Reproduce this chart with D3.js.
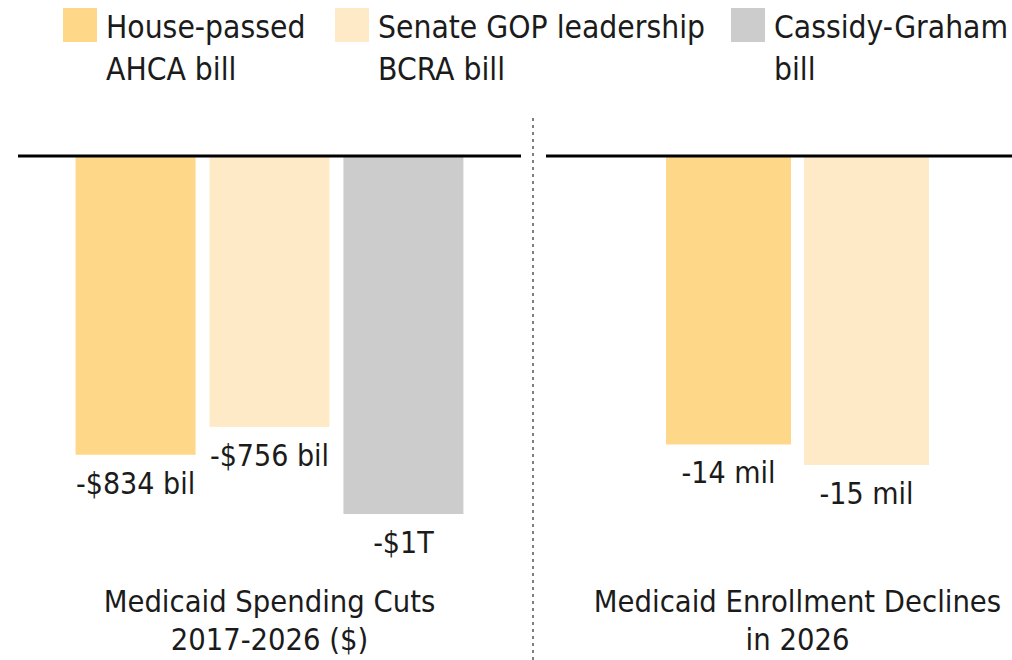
<!DOCTYPE html>
<html>
<head>
<meta charset="utf-8">
<script src="https://cdn.jsdelivr.net/npm/d3@7"></script>
<style>
  body { margin: 0; background: #fff; }
  svg text { font-family: "DejaVu Sans Condensed", "Liberation Sans Narrow", sans-serif; fill: #1b1b1b; }
</style>
</head>
<body>
<svg id="chart" width="1012" height="660"></svg>
<script>
// bills shown in the legend and the colours they get
const bills = ['House-passed AHCA bill', 'Senate GOP leadership BCRA bill', 'Cassidy-Graham bill'];
const billLines = [['House-passed', 'AHCA bill'], ['Senate GOP leadership', 'BCRA bill'], ['Cassidy-Graham', 'bill']];
const billColors = ['#fed789', '#feeac6', '#cccccc'];

// spending cuts 2017-2026, billions of dollars
const spendingBills = ['House-passed AHCA bill', 'Senate GOP leadership BCRA bill', 'Cassidy-Graham bill'];
const spendingValues = [-834, -756, -1000];
const spendingLabels = ['-$834 bil', '-$756 bil', '-$1T'];

// enrollment declines in 2026, millions of people
const enrollBills = ['House-passed AHCA bill', 'Senate GOP leadership BCRA bill'];
const enrollValues = [-14, -15];
const enrollLabels = ['-14 mil', '-15 mil'];

const panelTitles = [['Medicaid Spending Cuts', '2017-2026 ($)'], ['Medicaid Enrollment Declines', 'in 2026']];

const svg = d3.select('#chart');
const color = d3.scaleOrdinal(bills, billColors);
const top0 = 157;

// legend
const legendX = [63, 335, 731];
const legend = svg.append('g');
bills.forEach((b, i) => {
  const g = legend.append('g').attr('transform', `translate(${legendX[i]},8)`);
  g.append('rect').attr('width', 34).attr('height', 34).attr('fill', color(b));
  billLines[i].forEach((line, j) => {
    g.append('text')
      .attr('x', 43)
      .attr('y', 30 + 42 * j)
      .style('font-size', '31.5px')
      .text(line);
  });
});

function panel(cats, values, labels, yMin, yBottom, x0, x1, pad, titles) {
  const x = d3.scaleBand().domain(cats).range([x0, x1]).paddingInner(pad[0]).paddingOuter(pad[1]);
  const y = d3.scaleLinear().domain([yMin, 0]).range([yBottom, top0]);
  const g = svg.append('g');

  g.selectAll('rect.bar')
    .data(cats)
    .join('rect')
    .attr('class', 'bar')
    .attr('x', (d) => x(d))
    .attr('width', x.bandwidth())
    .attr('y', y(0))
    .attr('height', (d, i) => y(values[i]) - y(0))
    .attr('fill', (d) => color(d));

  g.append('line')
    .attr('x1', x0).attr('x2', x1)
    .attr('y1', y(0) - 1).attr('y2', y(0) - 1)
    .attr('stroke', '#000')
    .attr('stroke-width', 3);

  g.selectAll('text.val')
    .data(cats)
    .join('text')
    .attr('class', 'val')
    .attr('x', (d) => x(d) + x.bandwidth() / 2)
    .attr('y', (d, i) => y(values[i]) + 39)
    .attr('text-anchor', 'middle')
    .style('font-size', '30px')
    .text((d, i) => labels[i]);

  const cx = (x0 + x1) / 2;
  titles.forEach((t, j) => {
    g.append('text')
      .attr('x', cx)
      .attr('y', 612 + 38 * j)
      .attr('text-anchor', 'middle')
      .style('font-size', '30.6px')
      .text(t);
  });
}

panel(spendingBills, spendingValues, spendingLabels, -1000, 514, 18, 521, [0.104, 0.43], panelTitles[0]);
panel(enrollBills, enrollValues, enrollLabels, -15, 465, 546, 1049, [0.094, 0.87], panelTitles[1]);

// dotted divider between the two panels
svg.append('line')
  .attr('x1', 533).attr('x2', 533)
  .attr('y1', 118).attr('y2', 660)
  .attr('stroke', '#555')
  .attr('stroke-width', 1.5)
  .attr('stroke-dasharray', '3,4');
</script>
</body>
</html>
